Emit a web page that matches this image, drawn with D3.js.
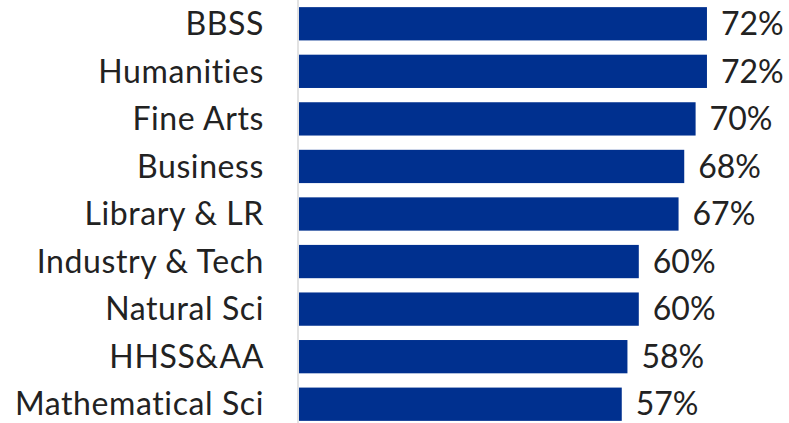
<!DOCTYPE html>
<html>
<head>
<meta charset="utf-8">
<script src="https://cdn.jsdelivr.net/npm/d3@7/dist/d3.min.js"></script>
<style>
html,body{margin:0;padding:0;background:#fff;}
svg{display:block;}
</style>
</head>
<body>
<svg id="chart" width="789" height="423"></svg>
<script>
const categories = ["BBSS","Humanities","Fine Arts","Business","Library & LR","Industry & Tech","Natural Sci","HHSS&AA","Mathematical Sci"];
const values = [72,72,70,68,67,60,60,58,57];
const valueLabels = ["72%","72%","70%","68%","67%","60%","60%","58%","57%"];

const data = categories.map((c,i)=>({cat:c, v:values[i], label:valueLabels[i]}));
const svg = d3.select("#chart");
const fontFamily = "Lato, 'Open Sans', sans-serif";
const fontSize = 32;

const x = d3.scaleLinear().domain([0,100]).range([298, 866]);
const y = d3.scaleBand().domain(categories).range([0, 428]).paddingInner(0.3).paddingOuter(0.15);

svg.append("line")
  .attr("x1", x(0)).attr("x2", x(0))
  .attr("y1", 0).attr("y2", 423)
  .attr("stroke", "#d9d9d9").attr("stroke-width", 1.5);

svg.selectAll("rect.bar").data(data).enter().append("rect")
  .attr("class","bar")
  .attr("x", x(0) + 1)
  .attr("y", d=>y(d.cat))
  .attr("width", d=>x(d.v) - x(0) - 1)
  .attr("height", y.bandwidth())
  .attr("fill", "#00308f");

svg.selectAll("text.cat").data(data).enter().append("text")
  .attr("class","cat")
  .attr("x", 264)
  .attr("y", d=>y(d.cat) + y.bandwidth()/2)
  .attr("dy", "0.35em")
  .attr("text-anchor","end")
  .attr("font-family", fontFamily)
  .attr("font-size", fontSize)
  .attr("letter-spacing", "0.6px")
  .attr("fill","#222")
  .text(d=>d.cat);

svg.selectAll("text.val").data(data).enter().append("text")
  .attr("class","val")
  .attr("x", d=>x(d.v) + 14)
  .attr("y", d=>y(d.cat) + y.bandwidth()/2)
  .attr("dy", "0.35em")
  .attr("font-family", fontFamily)
  .attr("font-size", fontSize)
  .attr("fill","#222")
  .text(d=>d.label);
</script>
</body>
</html>
